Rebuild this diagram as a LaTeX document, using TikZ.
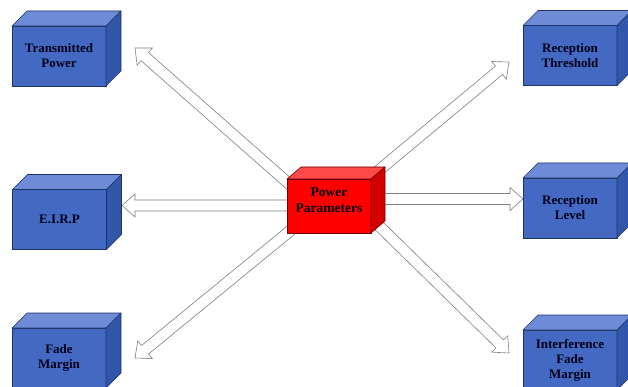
\documentclass[tikz,border=0pt]{standalone}
\usepackage{fontspec}
\setmainfont{Liberation Serif}
\usetikzlibrary{calc}

\definecolor{bluefront}{HTML}{4469C2}
\definecolor{bluetop}{HTML}{6D8BD6}
\definecolor{blueside}{HTML}{3257AA}
\definecolor{blueedge}{HTML}{1E3468}
\definecolor{redfront}{HTML}{FF0000}
\definecolor{redtop}{HTML}{FF4A4A}
\definecolor{redside}{HTML}{D40000}
\definecolor{rededge}{HTML}{6A0000}
\definecolor{arrowedge}{HTML}{7F7F7F}

\tikzset{
  bluefront/.style={draw=blueedge, fill=bluefront, line width=0.6pt,
    minimum width=94pt, minimum height=60pt, inner sep=0pt, outer sep=0pt,
    align=center, text=black!90!blue,
    font=\bfseries\fontsize{13}{15}\selectfont},
  bluetop/.style={draw=blueedge, fill=bluetop, line width=0.6pt, line join=round},
  blueside/.style={draw=blueedge, fill=blueside, line width=0.6pt, line join=round},
  redfront/.style={draw=rededge, fill=redfront, line width=0.6pt,
    minimum width=84pt, minimum height=54pt, inner sep=0pt, outer sep=0pt,
    align=center, text=black,
    font=\bfseries\fontsize{13.5}{15.5}\selectfont},
  redtop/.style={draw=rededge, fill=redtop, line width=0.6pt, line join=round},
  redside/.style={draw=rededge, fill=redside, line width=0.6pt, line join=round},
  hollow/.style={draw=arrowedge, fill=white, line width=0.6pt, line join=miter},
}

% Block drawn as a cube: #1 colour set, #2 name, #3 centre of front face,
% #4 label, #5/#6 depth offset to the right and upwards
\newcommand\cubeblock[6]{%
  \node[#1front] (#2) at (#3) {#4};
  \draw[#1top] (#2.north west) -- ++(#5,-#6) -- ($(#2.north east)+(#5,-#6)$)
    -- (#2.north east) -- cycle;
  \draw[#1side] (#2.north east) -- ++(#5,-#6) -- ($(#2.south east)+(#5,-#6)$)
    -- (#2.south east) -- cycle;
}

% Block arrow (outlined, white) from #1 to the tip #2
\newcommand\shaftw{5.5pt}
\newcommand\headw{11.5pt}
\newcommand\headl{13pt}
\newcommand\hollowarrow[2]{%
  \coordinate (#2-base) at ($(#2)!\headl!(#1)$);
  \draw[hollow] ($(#1)!\shaftw!90:(#2)$) -- ($(#2-base)!\shaftw!90:(#2)$)
    -- ($(#2-base)!\headw!90:(#2)$) -- (#2)
    -- ($(#2-base)!\headw!-90:(#2)$) -- ($(#2-base)!\shaftw!-90:(#2)$)
    -- ($(#1)!\shaftw!-90:(#2)$) -- cycle;
}

\begin{document}
\begin{tikzpicture}[x=1pt, y=-1pt]
  \clip (0,0) rectangle (628,387);
  \fill[white] (0,0) rectangle (628,387);

  % arrow roots (hidden under the central block) and tips
  \coordinate (s-tp)  at (296,190);
  \coordinate (s-rt)  at (372,176);
  \coordinate (s-eirp) at (300,205.5);
  \coordinate (s-rl)  at (362,199);
  \coordinate (s-fm)  at (296,226);
  \coordinate (s-ifm) at (371,218);

  \coordinate (t-tp)  at (135,48);
  \coordinate (t-rt)  at (509,62);
  \coordinate (t-eirp) at (122,205.5);
  \coordinate (t-rl)  at (523,199);
  \coordinate (t-fm)  at (135,358);
  \coordinate (t-ifm) at (509,353);

  \hollowarrow{s-tp}{t-tp}
  \hollowarrow{s-rt}{t-rt}
  \hollowarrow{s-eirp}{t-eirp}
  \hollowarrow{s-rl}{t-rl}
  \hollowarrow{s-fm}{t-fm}
  \hollowarrow{s-ifm}{t-ifm}

  % outer blocks
  \cubeblock{blue}{tp}{59,56}{Transmitted\\Power}{15}{15}
  \cubeblock{blue}{eirp}{59.5,219.5}{E.I.R.P}{15}{15}
  \cubeblock{blue}{fm}{59,358}{Fade\\Margin}{15}{15}
  \cubeblock{blue}{rt}{570,55.5}{Reception\\Threshold}{15}{15}
  \cubeblock{blue}{rl}{570,208}{Reception\\Level}{15}{15}
  \cubeblock{blue}{ifm}{570,360}{Interference\\Fade\\Margin}{15}{15}

  % central block
  \cubeblock{red}{pp}{329,206}{Power\\Parameters\\[-4pt]\mbox{}}{14}{12}
\end{tikzpicture}
\end{document}
